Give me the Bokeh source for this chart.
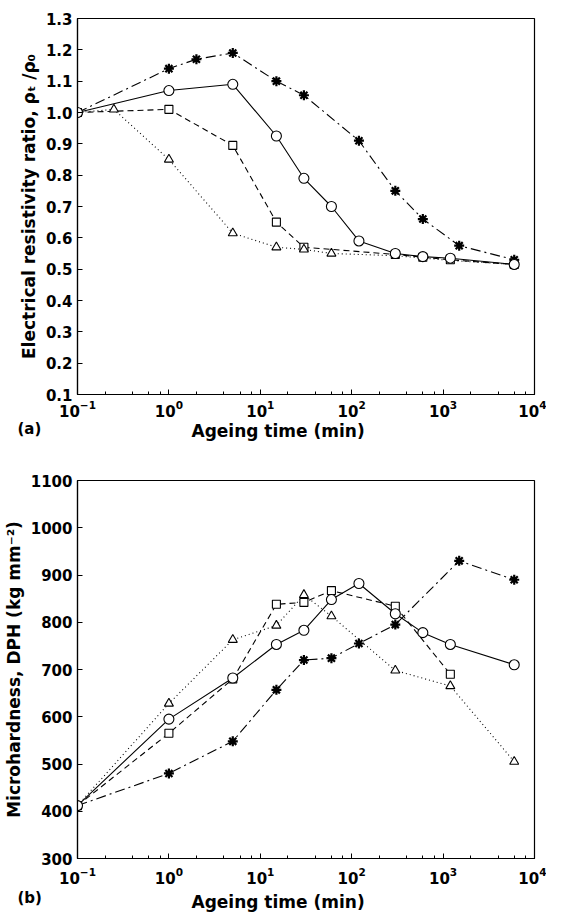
from bokeh.plotting import figure
from bokeh.models import LogTicker, FixedTicker, PrintfTickFormatter, Title, Range1d
from bokeh.layouts import column
from bokeh.embed import file_html
from bokeh.resources import INLINE

# ---------------- data: panel (a) electrical resistivity ratio ----------------
a_star_t = [0.1, 1, 2, 5, 15, 30, 120, 300, 600, 1500, 6000]
a_star_v = [1.00, 1.14, 1.17, 1.19, 1.10, 1.055, 0.91, 0.75, 0.66, 0.575, 0.53]
a_circ_t = [0.1, 1, 5, 15, 30, 60, 120, 300, 600, 1200, 6000]
a_circ_v = [1.00, 1.07, 1.09, 0.925, 0.79, 0.70, 0.59, 0.55, 0.54, 0.535, 0.515]
a_sq_t = [0.1, 1, 5, 15, 30, 300, 600, 1200, 6000]
a_sq_v = [1.00, 1.01, 0.895, 0.65, 0.57, 0.547, 0.538, 0.53, 0.515]
a_tri_t = [0.1, 0.25, 1, 5, 15, 30, 60, 300, 1200, 6000]
a_tri_v = [1.00, 1.01, 0.85, 0.615, 0.57, 0.563, 0.55, 0.543, 0.528, 0.515]
a_tri_marked = 7  # triangle markers drawn for the first points only

# ---------------- data: panel (b) microhardness ----------------
b_star_t = [0.1, 1, 5, 15, 30, 60, 120, 300, 1500, 6000]
b_star_v = [412, 480, 548, 657, 720, 724, 755, 795, 930, 890]
b_circ_t = [0.1, 1, 5, 15, 30, 60, 120, 300, 600, 1200, 6000]
b_circ_v = [412, 595, 682, 753, 783, 848, 882, 818, 778, 753, 710]
b_sq_t = [0.1, 1, 5, 15, 30, 60, 300, 1200]
b_sq_v = [412, 565, 680, 838, 842, 867, 834, 690]
b_tri_t = [0.1, 1, 5, 15, 30, 60, 300, 1200, 6000]
b_tri_v = [412, 628, 763, 793, 858, 813, 698, 665, 505]

a_yticks = [0.1, 0.2, 0.3, 0.4, 0.5, 0.6, 0.7, 0.8, 0.9, 1.0, 1.1, 1.2, 1.3]
b_yticks = [300, 400, 500, 600, 700, 800, 900, 1000, 1100]
x_label = "Ageing time (min)"

FONT = "DejaVu Sans"


def base_fig(height, ylo, yhi, yticks, fmt, ylabel, btop, bbot, tick_standoff):
    p = figure(width=546, height=height, x_axis_type="log",
               x_range=Range1d(0.1, 10000), y_range=Range1d(ylo, yhi),
               output_backend="svg", toolbar_location=None,
               min_border_left=65, min_border_right=12,
               min_border_top=btop, min_border_bottom=bbot)
    p.grid.visible = False
    p.outline_line_color = "black"
    p.outline_line_width = 1.2
    p.background_fill_color = "white"
    p.border_fill_color = "white"

    xa = p.xaxis[0]
    xa.ticker = LogTicker(desired_num_ticks=6)
    xa.major_label_standoff = tick_standoff

    ya = p.yaxis[0]
    ya.ticker = FixedTicker(ticks=yticks)
    ya.formatter = PrintfTickFormatter(format=fmt)
    ya.axis_label = ylabel
    ya.major_label_standoff = 5
    ya.axis_label_standoff = 4
    ya.minor_tick_line_color = None

    for ax in (xa, ya):
        ax.axis_line_color = "black"
        ax.axis_line_width = 1.2
        ax.major_tick_in = 5
        ax.major_tick_out = 0
        ax.minor_tick_in = 3
        ax.minor_tick_out = 0
        ax.major_label_text_font = FONT
        ax.major_label_text_font_style = "bold"
        ax.major_label_text_font_size = "15px"
        ax.major_label_text_color = "black"
        ax.axis_label_text_font = FONT
        ax.axis_label_text_font_style = "bold"
        ax.axis_label_text_font_size = "17px"
        ax.axis_label_text_color = "black"
    return p


def draw(p, star, circ, sq, tri, tri_marked):
    lw = 1.1
    p.line(star[0], star[1], line_color="black", line_width=lw, line_dash="10 4 2 4")
    p.line(circ[0], circ[1], line_color="black", line_width=lw)
    p.line(sq[0], sq[1], line_color="black", line_width=lw, line_dash="6 4")
    p.line(tri[0], tri[1], line_color="black", line_width=lw, line_dash="1 3")
    p.scatter(sq[0], sq[1], marker="square", size=8, fill_color="white",
              line_color="black", line_width=1.1)
    p.scatter(tri[0][:tri_marked], tri[1][:tri_marked], marker="triangle", size=9,
              fill_color="white", line_color="black", line_width=1.1)
    p.scatter(star[0], star[1], marker="asterisk", size=10, line_color="black",
              line_width=2.2)
    p.scatter(circ[0], circ[1], marker="circle", size=10, fill_color="white",
              line_color="black", line_width=1.1)


def bottom_texts(p, tag, s1, s2):
    p.add_layout(Title(text=tag, align="left", offset=-60, standoff=s1,
                       vertical_align="top", text_font=FONT, text_font_style="bold",
                       text_font_size="15px", text_color="black"), "below")
    p.add_layout(Title(text=x_label, align="left", offset=114, standoff=s2,
                       vertical_align="top", text_font=FONT, text_font_style="bold",
                       text_font_size="17px", text_color="black"), "below")


pa = base_fig(446, 0.1, 1.3, a_yticks, "%.1f",
              "Electrical resistivity ratio, ρₜ /ρ₀", 18, 52, 5)
draw(pa, (a_star_t, a_star_v), (a_circ_t, a_circ_v), (a_sq_t, a_sq_v),
     (a_tri_t, a_tri_v), a_tri_marked)
bottom_texts(pa, "(a)", 0, -38)

pb = base_fig(466, 300, 1100, b_yticks, "%d",
              "Microhardness, DPH (kg mm⁻²)", 34, 54, 8)
draw(pb, (b_star_t, b_star_v), (b_circ_t, b_circ_v), (b_sq_t, b_sq_v),
     (b_tri_t, b_tri_v), len(b_tri_t))
bottom_texts(pb, "(b)", 4, -38)

layout = column(pa, pb, spacing=0)
open("out.html", "w").write(file_html(layout, INLINE))
